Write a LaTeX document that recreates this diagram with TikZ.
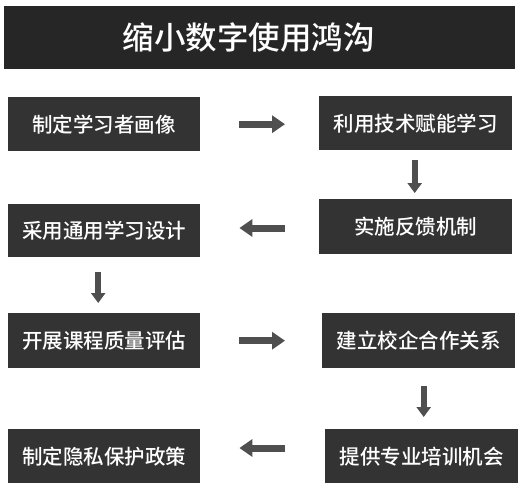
\documentclass[tikz,border=0pt]{standalone}
\usepackage{fontspec}
\setmainfont{Noto Sans CJK SC}[UprightFont=* Medium]
\usetikzlibrary{arrows.meta}
\definecolor{boxc}{HTML}{333333}
\definecolor{titlec}{HTML}{262626}
\definecolor{arrc}{HTML}{4F4F4F}
\begin{document}
\begin{tikzpicture}[x=1pt,y=-1pt,
  box/.style={fill=boxc,text=white,inner sep=0pt,font=\fontsize{20.5}{24}\selectfont,minimum height=54pt,minimum width=192pt},
  harr/.style={draw=arrc,line width=7pt,-{Triangle[length=13pt,width=17pt]}},
  varr/.style={draw=arrc,line width=6pt,-{Triangle[length=10pt,width=14pt]}}]
\useasboundingbox (0,0) rectangle (527,488);
\node[fill=titlec,text=white,inner sep=0pt,minimum width=511pt,minimum height=63pt,anchor=north west,font=\fontsize{31.5}{36}\selectfont] (title) at (4,6) {\hspace*{-22pt}缩小数字使用鸿沟};
\node[box,anchor=north west] (a) at (8,97) {制定学习者画像};
\node[box,anchor=north west,minimum width=193pt] (b) at (319,96) {利用技术赋能学习};
\node[box,anchor=north west,minimum width=193pt,minimum height=55pt] (c) at (319,199) {实施反馈机制};
\node[box,anchor=north west,minimum height=53pt] (d) at (8,204) {采用通用学习设计};
\node[box,anchor=north west,minimum height=55pt] (e) at (8,313) {开展课程质量评估};
\node[box,anchor=north west,minimum width=193pt,minimum height=55pt] (f) at (322,313) {建立校企合作关系};
\node[box,anchor=north west,minimum width=193pt] (g) at (325,429) {提供专业培训机会};
\node[box,anchor=north west] (h) at (8,429) {制定隐私保护政策};
\draw[harr,shorten <=39pt,shorten >=34pt] (a.east) -- (a.east -| b.west);
\draw[varr,shorten <=10pt,shorten >=6pt] ([xshift=-1pt]b.south) -- ([xshift=-1pt]b.south |- c.north);
\draw[harr,shorten <=34pt,shorten >=39pt] (c.west |- {(0,228)}) -- (d.east |- {(0,228)});
\draw[varr,shorten <=15pt,shorten >=10pt] ([xshift=-6pt]d.south) -- ([xshift=-6pt]d.south |- e.north);
\draw[harr,shorten <=39pt,shorten >=37pt] (e.east) -- (e.east -| f.west);
\draw[varr,shorten <=18pt,shorten >=12pt] ([xshift=5pt]f.south) -- ([xshift=5pt]f.south |- g.north);
\draw[harr,shorten <=40pt,shorten >=39pt] (g.west |- {(0,448)}) -- (h.east |- {(0,448)});
\end{tikzpicture}
\end{document}
